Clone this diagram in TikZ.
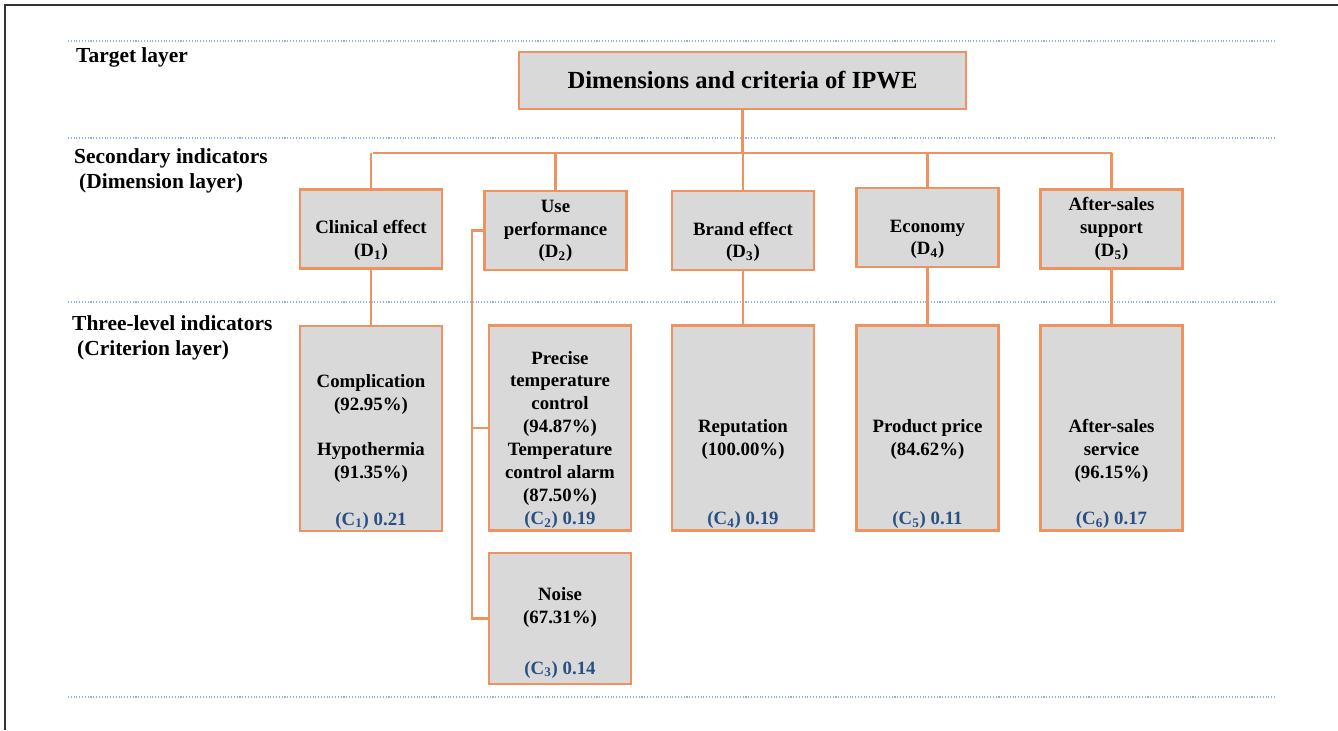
\documentclass[tikz,border=0pt]{standalone}
\usepackage{fontspec}
\setmainfont{Liberation Serif}
\usetikzlibrary{positioning}

\definecolor{boxline}{RGB}{238,146,96}
\definecolor{boxfill}{RGB}{217,217,217}
\definecolor{wblue}{RGB}{40,80,130}
\definecolor{sepblue}{RGB}{140,180,225}

\begin{document}
\begin{tikzpicture}[
	x=0.02cm, y=-0.02cm,
	dimbox/.style={rectangle, draw=boxline, line width=1.2pt, fill=boxfill, minimum width=2.84cm, minimum height=1.58cm, inner sep=0pt, align=center, font=\bfseries\fontsize{10.7}{13}\selectfont},
	critbox/.style={dimbox, minimum height=4.1cm},
	weight/.style={anchor=base, text=wblue, font=\bfseries\fontsize{10.7}{13}\selectfont},
	layer/.style={anchor=west, align=left, font=\bfseries\fontsize{12.2}{14.2}\selectfont},
	link/.style={draw=boxline, line width=1.2pt},
	sep/.style={draw=sepblue, densely dotted, line width=0.6pt},
]
	\useasboundingbox (0,0) rectangle (1338,730);

	% frame and layer separators
	\draw[line width=0.9pt, black!80] (5,730) -- (5,5) -- (1338,5);
	\foreach \y in {41,138,302,697}
		\draw[sep] (68,\y) -- (1275,\y);

	% layer names
	\node[layer] (target) at (70,57) {Target layer};
	\node[layer] (second) at (68,171) {Secondary indicators\\\hspace*{0.1cm}(Dimension layer)};
	\node[layer] (third) at (66,338) {Three-level indicators\\\hspace*{0.1cm}(Criterion layer)};

	% target (top)
	\node[dimbox, minimum width=8.94cm, minimum height=1.14cm, font=\bfseries\fontsize{14}{16}\selectfont] (ipwe) at (742.5,80.5) {Dimensions and criteria of IPWE};

	% dimensions (middle)
	\node[dimbox] (d1) at (371,229) {\strut\\Clinical effect\\(D\textsubscript{1})\strut};
	\node[dimbox] (d2) at (555.5,230.5) {\strut Use\\performance\\(D\textsubscript{2})\strut};
	\node[dimbox] (d3) at (743,230.5) {\strut\\Brand effect\\(D\textsubscript{3})\strut};
	\node[dimbox] (d4) at (927.5,227.5) {\strut\\Economy\\(D\textsubscript{4})\strut};
	\node[dimbox] (d5) at (1111.5,229) {\strut After-sales\\support\\(D\textsubscript{5})\strut};

	% criteria (bottom)
	\node[critbox] (c1) at (371,428.5) {\strut Complication\\(92.95\%)\\[13pt]Hypothermia\\(91.35\%)\strut};
	\node[critbox] (c2) at (560,428) {\strut Precise\\temperature\\control\\(94.87\%)\\Temperature\\control alarm\\(87.50\%)\strut};
	\node[critbox, minimum height=2.62cm] (c3) at (560,618.5) {\strut Noise\\(67.31\%)\\\strut};
	\node[critbox] (c4) at (743,428) {\strut\\Reputation\\(100.00\%)\strut};
	\node[critbox] (c5) at (927.5,428) {\strut\\Product price\\(84.62\%)\strut};
	\node[critbox] (c6) at (1111.5,428) {\strut\\\strut\\After-sales\\service\\(96.15\%)\strut};

	% weights
	\node[weight] (w1) at ([yshift=0.14cm]c1.south) {(C\textsubscript{1}) 0.21};
	\node[weight] (w2) at ([yshift=0.14cm]c2.south) {(C\textsubscript{2}) 0.19};
	\node[weight] (w3) at ([yshift=0.22cm]c3.south) {(C\textsubscript{3}) 0.14};
	\node[weight] (w4) at ([yshift=0.14cm]c4.south) {(C\textsubscript{4}) 0.19};
	\node[weight] (w5) at ([yshift=0.14cm]c5.south) {(C\textsubscript{5}) 0.11};
	\node[weight] (w6) at ([yshift=0.14cm]c6.south) {(C\textsubscript{6}) 0.17};

	% target -> dimensions
	\coordinate (busl) at (373,153);
	\coordinate (busr) at (1111.5,153);
	\draw[link] (busl) -- (busr);
	\draw[link] (ipwe.south) -- (ipwe.south |- busl);
	\foreach \d in {d1,d2,d3,d4,d5}
		\draw[link] (\d.north) -- (\d.north |- busl);

	% dimensions -> criteria
	\draw[link] (d1.south) -- (c1.north);
	\draw[link] (d3.south) -- (c4.north);
	\draw[link] (d4.south) -- (c5.north);
	\draw[link] (d5.south) -- (c6.north);
	\coordinate (side) at (472,230.5);
	\draw[link] (d2.west) -- (side) |- (c3.west);
	\draw[link] (c2.west) -- (c2.west -| side);

\end{tikzpicture}
\end{document}
